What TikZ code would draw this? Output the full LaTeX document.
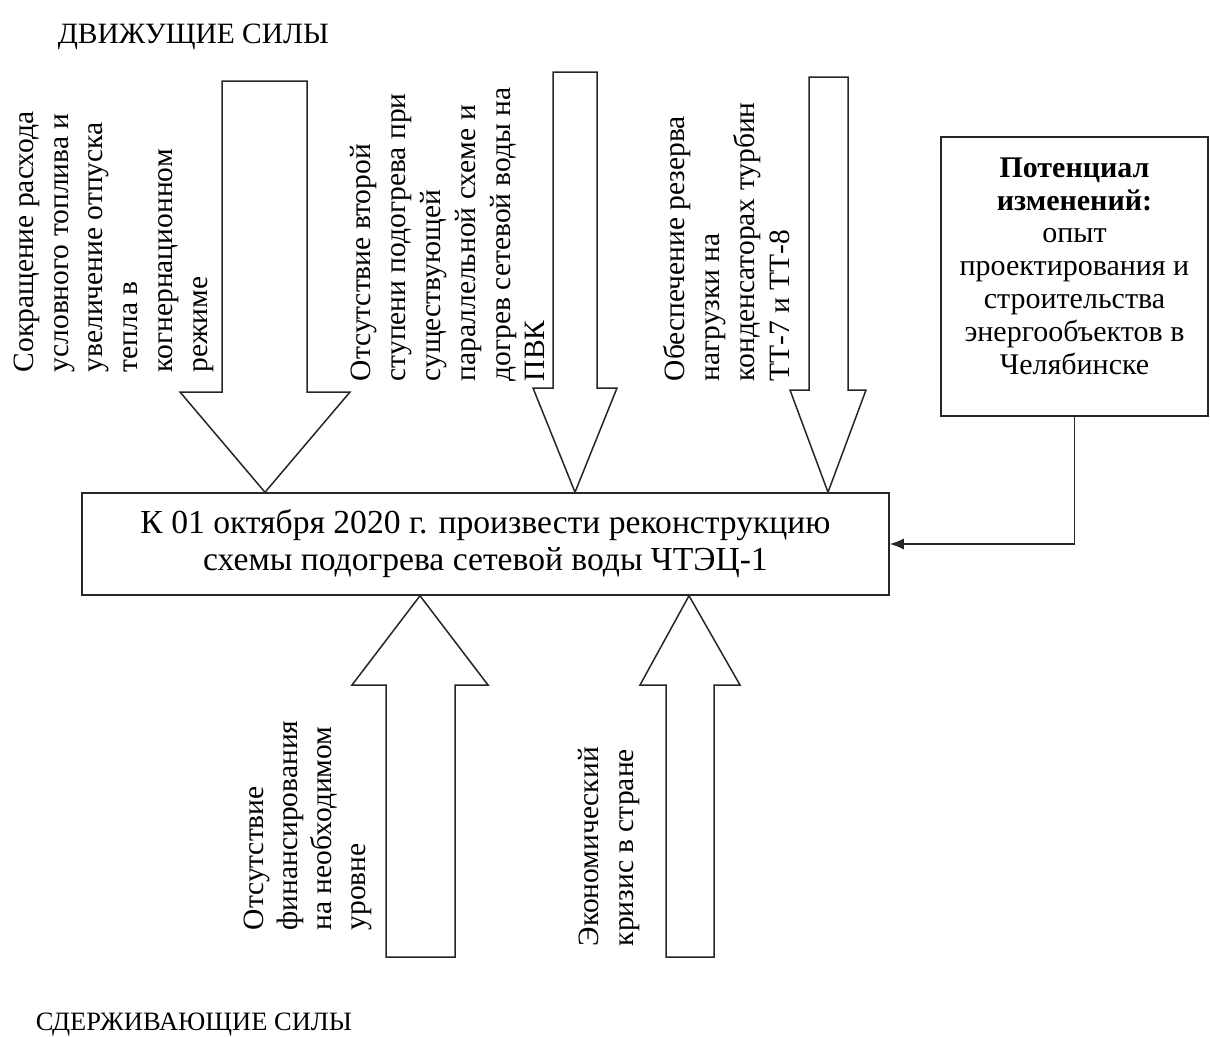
\documentclass[tikz,border=0pt]{standalone}
\usepackage{fontspec}
\setmainfont{Liberation Serif}
\usetikzlibrary{arrows.meta}
\begin{document}
\begin{tikzpicture}[x=1pt,y=-1pt,
  line width=1.5pt,
  ink/.style={draw=black!85},
  blockarrow/.style={ink, fill=white, line join=miter},
  titletext/.style={inner sep=0pt, font=\fontsize{29.5}{36}\selectfont},
  subtitletext/.style={inner sep=0pt, font=\fontsize{26.5}{32}\selectfont},
  rottext/.style={inner sep=0pt, rotate=90, anchor=north west, align=left, font=\fontsize{29.5}{34.8}\selectfont},
  goalbox/.style={ink, inner sep=0pt, align=center, minimum width=807pt, minimum height=102pt, font=\fontsize{33.6}{37}\selectfont},
  potbox/.style={ink, inner sep=0pt, minimum width=267pt, minimum height=279pt},
  pottext/.style={inner sep=0pt, align=center, anchor=north, font=\fontsize{30}{32.8}\selectfont},
  link/.style={ink, -{Latex[length=14pt,width=11pt]}}
]
\useasboundingbox (0,0) rectangle (1210,1036);

% titles
\node[titletext, anchor=base west] (drive) at (57,43) {ДВИЖУЩИЕ СИЛЫ};
\node[subtitletext, anchor=base west] (restrain) at (35,1030) {СДЕРЖИВАЮЩИЕ СИЛЫ};

% goal box
\node[goalbox, draw] (goal) at (485.5,544) {К 01 октября 2020 г. произвести реконструкцию\\схемы подогрева сетевой воды ЧТЭЦ-1};

% driving force arrows (pointing down to goal)
\draw[blockarrow] (222,81) -- (307,81) -- (307,392) -- (350,392) -- (goal.north -| 265,0) -- (180,392) -- (222,392) -- cycle;
\draw[blockarrow] (553,72) -- (597,72) -- (597,388) -- (617,388) -- (goal.north -| 575,0) -- (533,388) -- (553,388) -- cycle;
\draw[blockarrow] (809,77) -- (848,77) -- (848,390) -- (866,390) -- (goal.north -| 828,0) -- (790,390) -- (809,390) -- cycle;

% restraining force arrows (pointing up to goal)
\draw[blockarrow] (386,957) -- (455,957) -- (455,685) -- (488,685) -- (goal.south -| 420,0) -- (352,685) -- (386,685) -- cycle;
\draw[blockarrow] (666,957) -- (714,957) -- (714,685) -- (740,685) -- (goal.south -| 689,0) -- (640,685) -- (666,685) -- cycle;

% rotated labels
\node[rottext] (d1) at (13,373) {Сокращение расхода\\условного топлива и\\увеличение отпуска\\тепла в\\когнернационном\\режиме};
\node[rottext] (d2) at (350,382) {Отсутствие второй\\ступени подогрева при\\существующей\\параллельной схеме и\\догрев сетевой воды на\\ПВК};
\node[rottext] (d3) at (663,382) {Обеспечение резерва\\нагрузки на\\конденсаторах турбин\\ТТ-7 и ТТ-8};
\node[rottext, font=\fontsize{29.5}{34}\selectfont] (r1) at (243,931) {Отсутствие\\финансирования\\на необходимом\\уровне};
\node[rottext] (r2) at (578,947) {Экономический\\кризис в стране};

% potential box
\node[potbox, draw] (pot) at (1074.5,276.5) {};
\node[pottext] (pott) at (1074.5,157) {\textbf{Потенциал}\\\textbf{изменений:}\\опыт\\проектирования и\\строительства\\энергообъектов в\\Челябинске};
\draw[link] (pot.south) |- (goal.east);
\end{tikzpicture}
\end{document}
